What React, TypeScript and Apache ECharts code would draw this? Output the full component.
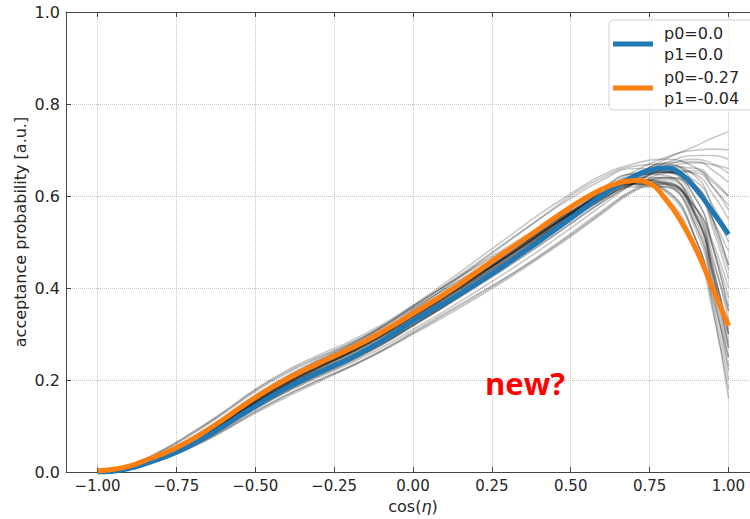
import React, { useEffect, useRef } from "react";
import * as echarts from "echarts";

const xTickValues = [-1.0, -0.75, -0.5, -0.25, 0.0, 0.25, 0.5, 0.75, 1.0];

const xMain = [
  -1.0, -0.95, -0.9, -0.85, -0.8, -0.75, -0.7, -0.65, -0.6, -0.55, -0.5, -0.45, -0.4, -0.35, -0.3, -0.25, -0.2,
  -0.15, -0.1, -0.05, 0.0, 0.05, 0.1, 0.15, 0.2, 0.25, 0.3, 0.35, 0.4, 0.45, 0.5, 0.55, 0.6, 0.65, 0.7, 0.75,
  0.8, 0.85, 0.9, 0.95, 1.0,
];

const blueValues = [
  0.0, 0.002, 0.008, 0.018, 0.03, 0.043, 0.06, 0.079, 0.1, 0.122, 0.143, 0.164, 0.183, 0.2, 0.216, 0.231,
  0.247, 0.265, 0.284, 0.306, 0.328, 0.348, 0.367, 0.388, 0.409, 0.431, 0.454, 0.478, 0.502, 0.527, 0.552, 0.577,
  0.601, 0.624, 0.643, 0.656, 0.661, 0.648, 0.612, 0.566, 0.517,
];

const orangeValues = [
  0.003, 0.006, 0.013, 0.025, 0.038, 0.053, 0.071, 0.092, 0.115, 0.139, 0.162, 0.183, 0.202, 0.22, 0.236, 0.252,
  0.268, 0.285, 0.304, 0.324, 0.345, 0.366, 0.387, 0.41, 0.434, 0.458, 0.482, 0.505, 0.529, 0.553, 0.576, 0.597,
  0.615, 0.628, 0.634, 0.627, 0.594, 0.545, 0.48, 0.4, 0.318,
];

const xGray = [
  -1.0, -0.9, -0.8, -0.7, -0.6, -0.5, -0.4, -0.3, -0.2, -0.1, 0.0, 0.1, 0.2, 0.3, 0.4, 0.5, 0.6, 0.7, 0.8, 0.9,
  0.95, 1.0,
];

const grayCurves = [
  [0, 0.011, 0.036, 0.07, 0.112, 0.158, 0.198, 0.232, 0.264, 0.302, 0.345, 0.387, 0.43, 0.474, 0.52, 0.565, 0.606, 0.632, 0.615, 0.5, 0.36, 0.16],
  [0, 0.01, 0.034, 0.066, 0.107, 0.152, 0.193, 0.228, 0.26, 0.297, 0.34, 0.382, 0.425, 0.47, 0.516, 0.562, 0.604, 0.634, 0.625, 0.52, 0.39, 0.22],
  [0.002, 0.012, 0.038, 0.072, 0.115, 0.162, 0.2, 0.232, 0.262, 0.298, 0.34, 0.38, 0.42, 0.462, 0.506, 0.55, 0.592, 0.624, 0.62, 0.53, 0.41, 0.25],
  [0, 0.009, 0.031, 0.062, 0.101, 0.144, 0.183, 0.217, 0.25, 0.288, 0.332, 0.376, 0.421, 0.468, 0.516, 0.564, 0.608, 0.64, 0.64, 0.55, 0.43, 0.28],
  [0.001, 0.01, 0.033, 0.065, 0.105, 0.149, 0.19, 0.226, 0.26, 0.298, 0.342, 0.385, 0.43, 0.476, 0.522, 0.567, 0.607, 0.635, 0.632, 0.555, 0.445, 0.3],
  [0, 0.011, 0.035, 0.068, 0.109, 0.154, 0.194, 0.228, 0.259, 0.294, 0.336, 0.376, 0.417, 0.46, 0.505, 0.55, 0.594, 0.628, 0.636, 0.57, 0.47, 0.33],
  [0, 0.01, 0.032, 0.063, 0.102, 0.145, 0.185, 0.219, 0.251, 0.289, 0.333, 0.378, 0.424, 0.472, 0.521, 0.57, 0.616, 0.65, 0.655, 0.59, 0.49, 0.35],
  [0.001, 0.012, 0.037, 0.071, 0.113, 0.159, 0.2, 0.235, 0.268, 0.306, 0.35, 0.392, 0.434, 0.477, 0.52, 0.562, 0.6, 0.626, 0.625, 0.57, 0.49, 0.38],
  [0, 0.01, 0.033, 0.065, 0.105, 0.149, 0.188, 0.221, 0.251, 0.286, 0.328, 0.37, 0.413, 0.458, 0.505, 0.553, 0.6, 0.638, 0.652, 0.61, 0.53, 0.42],
  [0, 0.009, 0.03, 0.06, 0.098, 0.14, 0.178, 0.211, 0.242, 0.278, 0.32, 0.362, 0.406, 0.452, 0.5, 0.549, 0.597, 0.635, 0.653, 0.62, 0.55, 0.45],
  [0.002, 0.013, 0.039, 0.073, 0.115, 0.161, 0.201, 0.235, 0.266, 0.302, 0.344, 0.385, 0.426, 0.468, 0.511, 0.554, 0.594, 0.626, 0.64, 0.61, 0.55, 0.48],
  [0, 0.01, 0.034, 0.066, 0.106, 0.15, 0.189, 0.222, 0.252, 0.287, 0.328, 0.368, 0.409, 0.452, 0.498, 0.545, 0.592, 0.63, 0.65, 0.63, 0.58, 0.52],
  [0, 0.011, 0.035, 0.068, 0.108, 0.152, 0.191, 0.224, 0.255, 0.291, 0.333, 0.375, 0.418, 0.463, 0.51, 0.558, 0.604, 0.64, 0.66, 0.645, 0.605, 0.55],
  [0, 0.009, 0.031, 0.062, 0.1, 0.143, 0.181, 0.213, 0.243, 0.278, 0.319, 0.36, 0.402, 0.446, 0.492, 0.54, 0.587, 0.627, 0.653, 0.65, 0.62, 0.58],
  [0.001, 0.011, 0.036, 0.07, 0.111, 0.156, 0.196, 0.23, 0.262, 0.299, 0.342, 0.385, 0.428, 0.472, 0.517, 0.562, 0.605, 0.64, 0.664, 0.66, 0.635, 0.6],
  [0, 0.01, 0.033, 0.064, 0.103, 0.146, 0.185, 0.218, 0.249, 0.285, 0.327, 0.369, 0.412, 0.457, 0.504, 0.552, 0.6, 0.642, 0.672, 0.675, 0.656, 0.63],
  [0, 0.01, 0.032, 0.063, 0.101, 0.144, 0.182, 0.214, 0.244, 0.279, 0.32, 0.361, 0.403, 0.447, 0.493, 0.54, 0.587, 0.628, 0.66, 0.672, 0.668, 0.66],
  [0, 0.01, 0.034, 0.066, 0.106, 0.15, 0.19, 0.224, 0.256, 0.293, 0.336, 0.379, 0.423, 0.469, 0.516, 0.564, 0.611, 0.653, 0.684, 0.7, 0.702, 0.7],
  [0, 0.009, 0.03, 0.06, 0.097, 0.139, 0.177, 0.21, 0.241, 0.277, 0.319, 0.362, 0.406, 0.452, 0.5, 0.549, 0.598, 0.643, 0.68, 0.71, 0.726, 0.74],
  [0.001, 0.012, 0.038, 0.073, 0.116, 0.163, 0.203, 0.236, 0.266, 0.302, 0.344, 0.385, 0.427, 0.47, 0.515, 0.56, 0.6, 0.627, 0.612, 0.5, 0.37, 0.2],
  [0, 0.011, 0.036, 0.069, 0.11, 0.155, 0.195, 0.23, 0.262, 0.3, 0.344, 0.388, 0.433, 0.48, 0.528, 0.575, 0.618, 0.648, 0.645, 0.555, 0.435, 0.27],
  [0, 0.01, 0.034, 0.066, 0.106, 0.151, 0.192, 0.227, 0.259, 0.296, 0.339, 0.381, 0.424, 0.468, 0.513, 0.558, 0.6, 0.63, 0.628, 0.55, 0.44, 0.31],
  [0.001, 0.011, 0.035, 0.068, 0.109, 0.154, 0.194, 0.228, 0.259, 0.295, 0.337, 0.379, 0.422, 0.466, 0.512, 0.558, 0.603, 0.643, 0.672, 0.688, 0.688, 0.68],
  [0, 0.01, 0.033, 0.065, 0.104, 0.148, 0.187, 0.22, 0.251, 0.287, 0.33, 0.373, 0.417, 0.463, 0.51, 0.558, 0.605, 0.645, 0.667, 0.64, 0.575, 0.5],
  [0.002, 0.013, 0.04, 0.075, 0.118, 0.165, 0.207, 0.242, 0.274, 0.311, 0.354, 0.396, 0.437, 0.478, 0.52, 0.56, 0.596, 0.62, 0.62, 0.57, 0.5, 0.4],
  [0, 0.009, 0.029, 0.058, 0.095, 0.137, 0.175, 0.208, 0.239, 0.275, 0.317, 0.36, 0.405, 0.452, 0.501, 0.551, 0.6, 0.64, 0.652, 0.59, 0.49, 0.36],
  [0, 0.011, 0.036, 0.07, 0.113, 0.16, 0.2, 0.234, 0.266, 0.305, 0.352, 0.4, 0.45, 0.5, 0.55, 0.6, 0.64, 0.665, 0.67, 0.62, 0.54, 0.44],
  [0, 0.008, 0.028, 0.056, 0.092, 0.132, 0.168, 0.2, 0.23, 0.265, 0.305, 0.345, 0.385, 0.425, 0.468, 0.515, 0.565, 0.615, 0.65, 0.655, 0.62, 0.57],
  [0.001, 0.012, 0.038, 0.074, 0.117, 0.165, 0.206, 0.241, 0.274, 0.313, 0.358, 0.405, 0.453, 0.502, 0.55, 0.595, 0.635, 0.66, 0.655, 0.57, 0.45, 0.3],
  [0, 0.009, 0.03, 0.059, 0.096, 0.137, 0.174, 0.206, 0.236, 0.27, 0.31, 0.35, 0.392, 0.436, 0.482, 0.53, 0.58, 0.628, 0.665, 0.68, 0.67, 0.65],
  [0.003, 0.015, 0.045, 0.085, 0.13, 0.178, 0.218, 0.25, 0.28, 0.316, 0.36, 0.404, 0.448, 0.49, 0.532, 0.572, 0.608, 0.63, 0.61, 0.5, 0.38, 0.25],
  [0.002, 0.014, 0.043, 0.082, 0.127, 0.175, 0.215, 0.248, 0.278, 0.315, 0.357, 0.398, 0.44, 0.482, 0.525, 0.566, 0.602, 0.626, 0.6, 0.48, 0.35, 0.18],
  [0, 0.007, 0.026, 0.054, 0.089, 0.128, 0.163, 0.196, 0.228, 0.262, 0.3, 0.338, 0.378, 0.42, 0.465, 0.512, 0.562, 0.61, 0.64, 0.62, 0.55, 0.45],
  [0.001, 0.012, 0.039, 0.076, 0.12, 0.168, 0.209, 0.244, 0.277, 0.316, 0.362, 0.41, 0.46, 0.51, 0.56, 0.605, 0.645, 0.67, 0.68, 0.66, 0.63, 0.6],
  [0, 0.008, 0.027, 0.055, 0.091, 0.131, 0.167, 0.199, 0.229, 0.263, 0.302, 0.342, 0.382, 0.424, 0.47, 0.518, 0.568, 0.612, 0.625, 0.55, 0.43, 0.3],
  [0.002, 0.015, 0.046, 0.086, 0.131, 0.18, 0.221, 0.254, 0.284, 0.32, 0.362, 0.404, 0.445, 0.486, 0.527, 0.566, 0.602, 0.628, 0.628, 0.56, 0.46, 0.35],
  [0, 0.01, 0.034, 0.067, 0.108, 0.153, 0.193, 0.227, 0.258, 0.295, 0.338, 0.381, 0.425, 0.47, 0.516, 0.562, 0.605, 0.636, 0.628, 0.53, 0.4, 0.23],
  [0.001, 0.011, 0.036, 0.07, 0.111, 0.157, 0.197, 0.231, 0.263, 0.3, 0.343, 0.385, 0.428, 0.472, 0.517, 0.561, 0.602, 0.632, 0.63, 0.54, 0.42, 0.27],
];

const blueName = "p0=0.0\np1=0.0";
const orangeName = "p0=-0.27\np1=-0.04";
const yLabel = "acceptance probability [a.u.]";
const annotation = "new?";

const FONT = "DejaVu Sans";
const AXIS_COLOR = "#444";
const TEXT_COLOR = "#262626";

export default function App() {
  const ref = useRef<HTMLDivElement>(null);

  useEffect(() => {
    if (!ref.current) return;
    const chart = echarts.init(ref.current, undefined, { renderer: "svg" });

    const graySeries = grayCurves.map((vals, i) => ({
      name: "g" + i,
      type: "line",
      data: xGray.map((x, j) => [x, vals[j]]),
      smooth: true,
      symbol: "none",
      silent: true,
      lineStyle: { color: "rgba(0,0,0,0.22)", width: 1.6 },
      z: 2,
    }));

    const option: any = {
      animation: false,
      backgroundColor: "#fff",
      textStyle: { fontFamily: FONT },
      grid: { left: 66, top: 12, width: 694, height: 463, containLabel: false },
      legend: {
        data: [blueName, orangeName],
        orient: "vertical",
        left: 609,
        top: 20,
        padding: [3, 20, 1, 4],
        itemGap: 2,
        itemWidth: 40,
        itemHeight: 5,
        icon: "rect",
        backgroundColor: "rgba(255,255,255,0.85)",
        borderColor: "#d0d0d0",
        borderWidth: 1,
        borderRadius: 4,
        textStyle: {
          fontFamily: FONT,
          fontSize: 16,
          lineHeight: 21,
          color: TEXT_COLOR,
          padding: [0, 0, 0, 6],
        },
      },
      xAxis: [
        {
          type: "value",
          min: -1.1,
          max: 1.1,
          position: "bottom",
          axisLine: { show: true, onZero: false, lineStyle: { color: AXIS_COLOR, width: 1 } },
          axisTick: { show: true, inside: true, length: 5, customValues: xTickValues, lineStyle: { color: AXIS_COLOR } },
          axisLabel: {
            customValues: xTickValues,
            formatter: (v: number) => v.toFixed(2).replace("-", "\u2212"),
            fontFamily: FONT,
            fontSize: 15,
            color: TEXT_COLOR,
            margin: 6,
          },
          splitLine: { show: true, lineStyle: { color: "#c4c4c4", type: "dotted", width: 1 } },
          name: "cos({i|η})",
          nameLocation: "middle",
          nameGap: 25,
          nameTextStyle: {
            fontFamily: FONT,
            fontSize: 16,
            color: TEXT_COLOR,
            rich: { i: { fontFamily: FONT, fontSize: 16, fontStyle: "italic", color: TEXT_COLOR } },
          },
        },
        {
          type: "value",
          min: -1.1,
          max: 1.1,
          position: "top",
          axisLine: { show: true, onZero: false, lineStyle: { color: AXIS_COLOR, width: 1 } },
          axisTick: { show: true, inside: true, length: 5, customValues: xTickValues, lineStyle: { color: AXIS_COLOR } },
          axisLabel: { show: false, customValues: xTickValues },
          splitLine: { show: false },
        },
      ],
      yAxis: [
        {
          type: "value",
          min: 0,
          max: 1,
          interval: 0.2,
          position: "left",
          axisLine: { show: true, onZero: false, lineStyle: { color: AXIS_COLOR, width: 1 } },
          axisTick: { show: true, inside: true, length: 5, lineStyle: { color: AXIS_COLOR } },
          axisLabel: {
            formatter: (v: number) => v.toFixed(1),
            fontFamily: FONT,
            fontSize: 16,
            color: TEXT_COLOR,
            margin: 6,
          },
          splitLine: { show: true, lineStyle: { color: "#c4c4c4", type: "dotted", width: 1 } },
        },
        {
          type: "value",
          min: 0,
          max: 1,
          interval: 0.2,
          position: "right",
          axisLine: { show: true, onZero: false, lineStyle: { color: AXIS_COLOR, width: 1 } },
          axisTick: { show: true, inside: true, length: 5, lineStyle: { color: AXIS_COLOR } },
          axisLabel: { show: false },
          splitLine: { show: false },
        },
      ],
      series: [
        ...graySeries,
        {
          name: blueName,
          type: "line",
          data: xMain.map((x, i) => [x, blueValues[i]]),
          smooth: true,
          symbol: "none",
          itemStyle: { color: "#1f77b4" },
          lineStyle: { color: "#1f77b4", width: 5 },
          z: 5,
        },
        {
          name: orangeName,
          type: "line",
          data: xMain.map((x, i) => [x, orangeValues[i]]),
          smooth: true,
          symbol: "none",
          itemStyle: { color: "#ff7f0e" },
          lineStyle: { color: "#ff7f0e", width: 5 },
          z: 6,
        },
      ],
      graphic: [
        {
          type: "text",
          x: 20,
          y: 232,
          rotation: Math.PI / 2,
          style: {
            text: yLabel,
            fontFamily: FONT,
            fontSize: 16,
            fill: TEXT_COLOR,
            align: "center",
            verticalAlign: "middle",
          },
          z: 10,
        },
        {
          type: "text",
          x: 525,
          y: 383,
          style: {
            text: annotation,
            fontFamily: "Open Sans",
            fontWeight: "bold",
            fontSize: 31,
            fill: "#ff0000",
            align: "center",
            verticalAlign: "middle",
          },
          z: 10,
        },
      ],
    };

    chart.setOption(option);
    return () => chart.dispose();
  }, []);

  return (
    <div style={{ position: "fixed", left: 0, top: 0, width: 750, height: 519, overflow: "hidden", background: "#fff" }}>
      <div ref={ref} style={{ width: 762, height: 519 }} />
    </div>
  );
}
